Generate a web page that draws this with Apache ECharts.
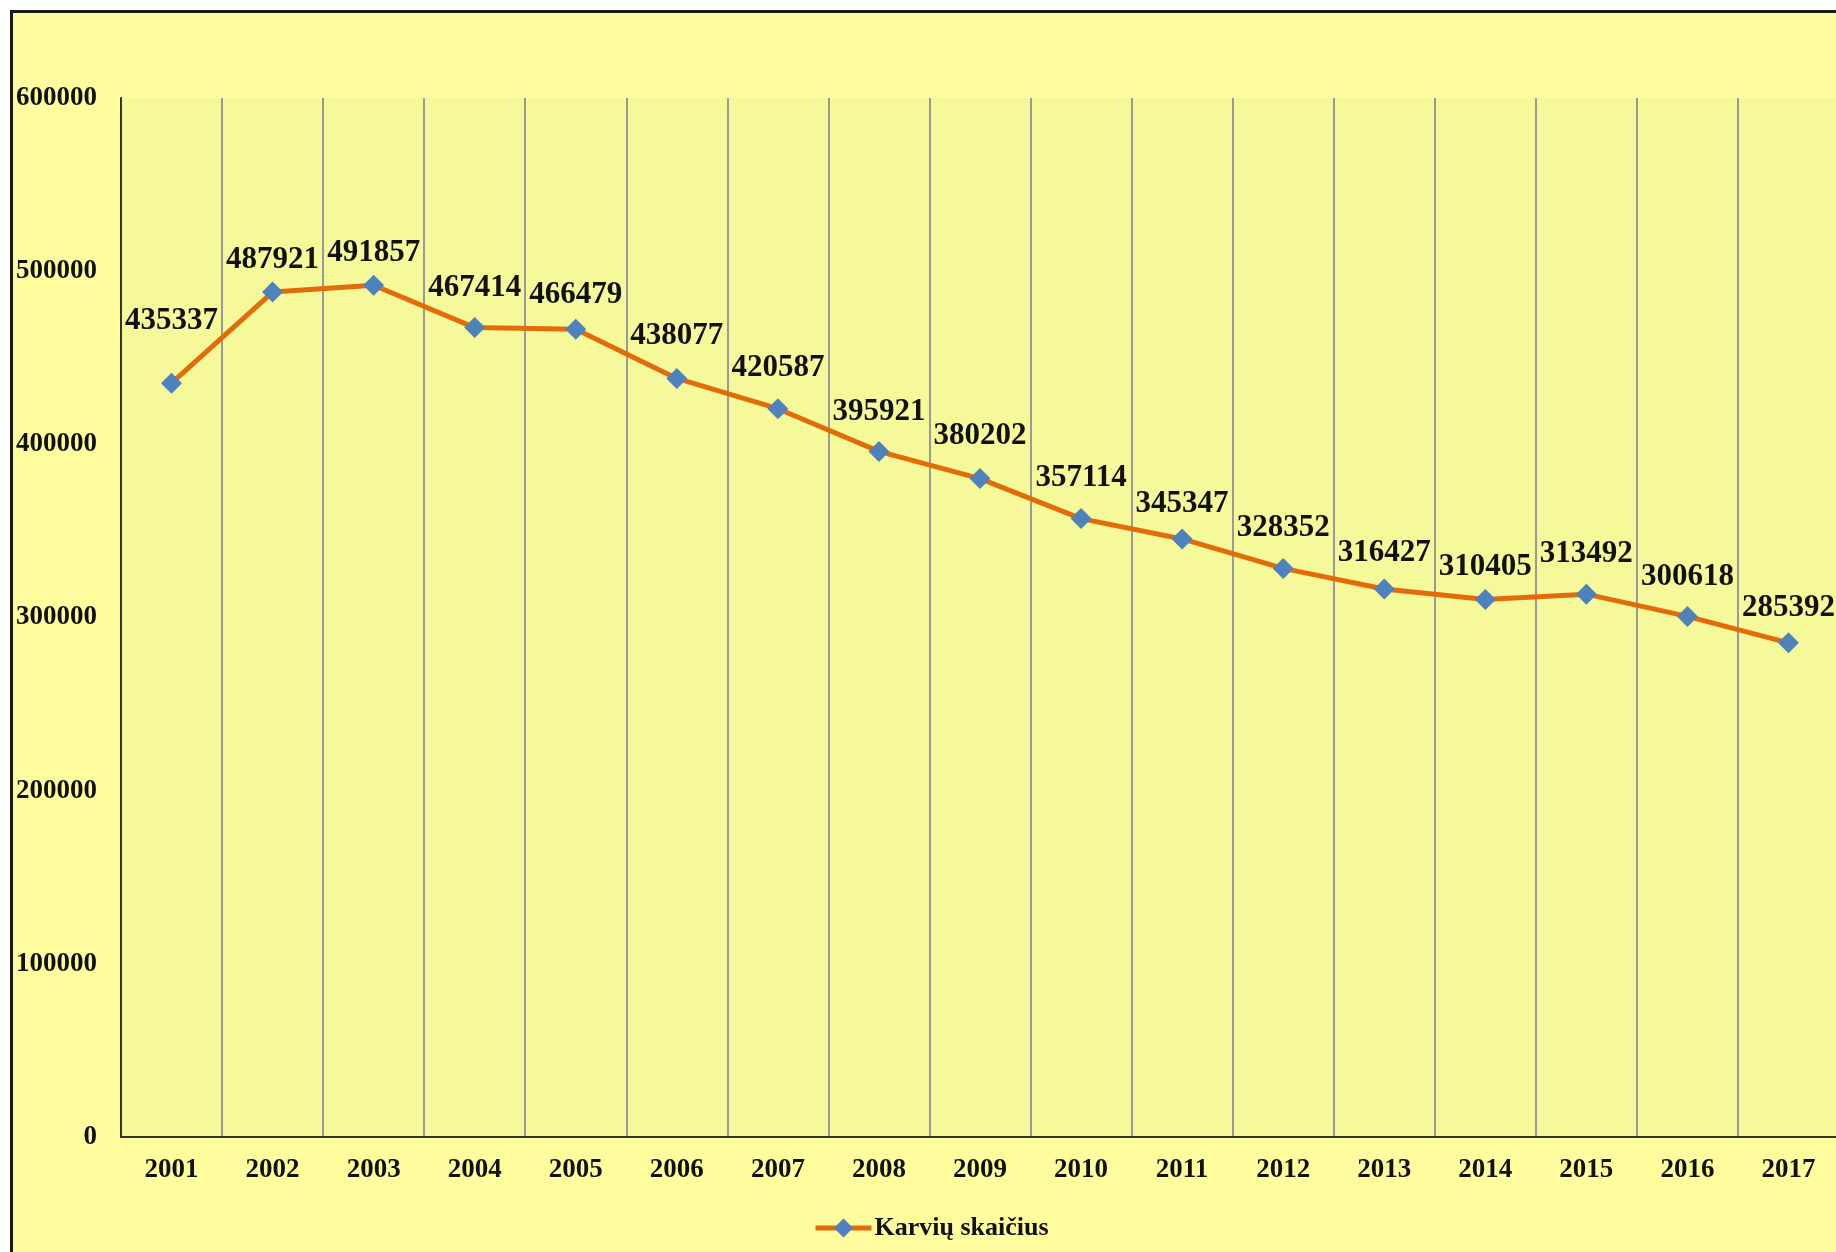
<!DOCTYPE html>
<html>
<head>
<meta charset="utf-8">
<script src="https://cdn.jsdelivr.net/npm/echarts@6/dist/echarts.min.js"></script>
<style>
  html, body { margin: 0; padding: 0; background: #ffffff; }
  #page { position: relative; width: 1836px; height: 1252px; overflow: hidden; background: #ffffff; }
  #chart {
    position: absolute; left: 10px; top: 10px;
    width: 1826px; height: 1242px;
    border-left: 3px solid #1a1a1a; border-top: 3px solid #1a1a1a;
  }
</style>
</head>
<body>
<div id="page"><div id="chart"></div></div>
<script>
const years = ["2001", "2002", "2003", "2004", "2005", "2006", "2007", "2008", "2009",
  "2010", "2011", "2012", "2013", "2014", "2015", "2016", "2017"];
const cows = [435337, 487921, 491857, 467414, 466479, 438077, 420587, 395921, 380202,
  357114, 345347, 328352, 316427, 310405, 313492, 300618, 285392];
const seriesName = "Karvių skaičius";
// how far each value label sits above its point (label placement only)
const labelLift = [62, 32, 32, 40, 34, 42, 41, 39, 43, 41, 35, 40, 36, 32, 40, 39, 35];

const font = "'Liberation Serif', 'Times New Roman', serif";
const chart = echarts.init(document.getElementById("chart"));

const option = {
  backgroundColor: "#FFFC9E",
  animation: false,
  grid: {
    left: 108,
    right: 0,
    top: 85,
    bottom: 118,
    outerBoundsMode: "none",
    containLabel: false,
    show: true,
    backgroundColor: "#F5F99A",
    borderWidth: 0,
  },
  legend: {
    data: [seriesName],
    left: 795,
    top: 1197,
    itemWidth: 56,
    itemHeight: 24,
    itemGap: 10,
    lineStyle: { color: "#E36C0A", width: 5 },
    itemStyle: { color: "#4F81BD" },
    textStyle: { fontFamily: font, fontWeight: "bold", fontSize: 26, color: "#111", padding: [0, 0, 0, -2] },
  },
  xAxis: {
    type: "category",
    data: years,
    boundaryGap: true,
    axisLine: { show: true, lineStyle: { color: "#333", width: 2 } },
    axisTick: { show: false },
    axisLabel: {
      margin: 20,
      fontFamily: font,
      fontWeight: "bold",
      fontSize: 27,
      color: "#111",
      interval: 0,
    },
    splitLine: { show: true, interval: 0, lineStyle: { color: "#999", width: 2 } },
  },
  yAxis: {
    type: "value",
    min: 0,
    max: 600000,
    interval: 100000,
    axisLine: { show: true, lineStyle: { color: "#333", width: 2 } },
    axisTick: { show: false },
    axisLabel: {
      margin: 24,
      fontFamily: font,
      fontWeight: "bold",
      fontSize: 27,
      color: "#111",
      formatter: (v) => String(v),
    },
    splitLine: { show: false },
  },
  series: [
    {
      name: seriesName,
      type: "line",
      data: cows.map((v, i) => ({
        value: v,
        label: { offset: [0, -labelLift[i]] },
      })),
      symbol: "diamond",
      symbolSize: 21,
      lineStyle: { color: "#E36C0A", width: 5 },
      itemStyle: { color: "#4F81BD" },
      label: {
        show: true,
        position: "inside",
        fontFamily: font,
        fontWeight: "bold",
        fontSize: 31,
        color: "#111",
      },
    },
  ],
};
chart.setOption(option);
</script>
</body>
</html>
